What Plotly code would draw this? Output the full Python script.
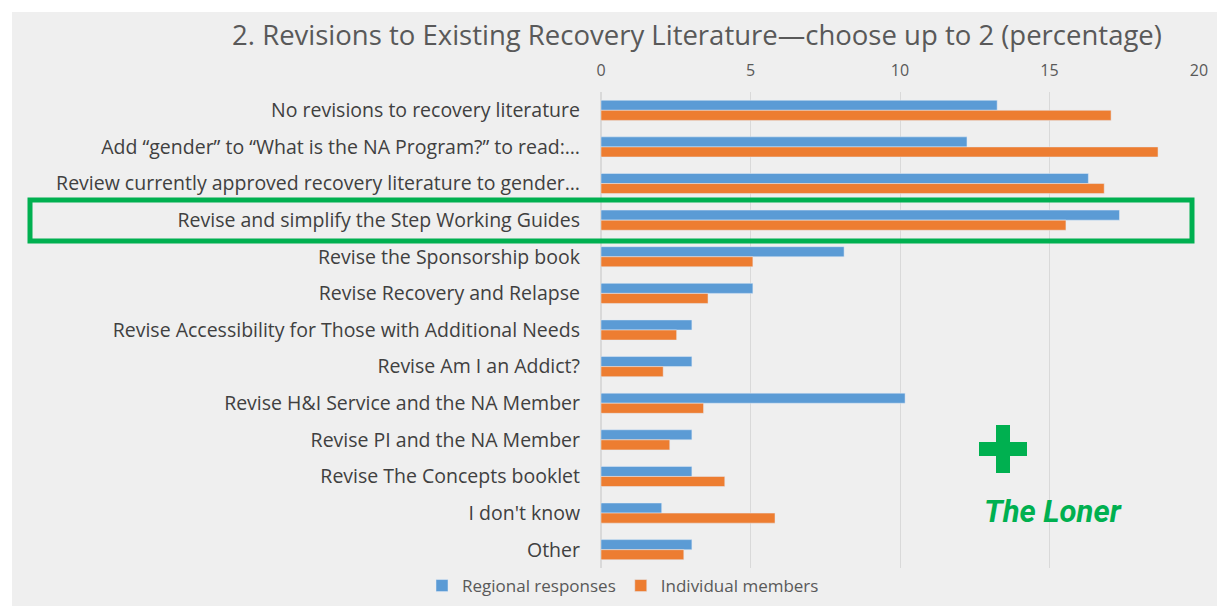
import plotly.graph_objects as go

categories = [
    "No revisions to recovery literature",
    "Add \u201cgender\u201d to \u201cWhat is the NA Program?\u201d to read:\u2026",
    "Review currently approved recovery literature to gender\u2026",
    "Revise and simplify the Step Working Guides",
    "Revise the Sponsorship book",
    "Revise Recovery and Relapse",
    "Revise Accessibility for Those with Additional Needs",
    "Revise Am I an Addict?",
    "Revise H&I Service and the NA Member",
    "Revise PI and the NA Member",
    "Revise The Concepts booklet",
    "I don't know",
    "Other",
]
regional = [13.25, 12.24, 16.30, 17.34, 8.13, 5.08, 3.04, 3.04, 10.17, 3.04, 3.04, 2.03, 3.04]
individual = [17.06, 18.63, 16.83, 15.55, 5.08, 3.58, 2.53, 2.08, 3.43, 2.30, 4.14, 5.82, 2.77]
tick_vals = [0, 5, 10, 15, 20]

# page has an 8px body margin; work in page pixel coordinates and shift
OFF = 8
W, H = 1225 - 2 * OFF, 614 - 2 * OFF
L, R, T, B = 601 - OFF, 1199 - OFF, 92 - OFF, 568 - OFF


def px(x):
    return (x - OFF - L) / (R - L)


def py(y):
    return (B - (y - OFF)) / (B - T)


fig = go.Figure()
fig.add_trace(go.Bar(y=categories, x=regional, orientation="h", name="Regional responses",
                     marker=dict(color="#5b9bd5")))
fig.add_trace(go.Bar(y=categories, x=individual, orientation="h", name="Individual members",
                     marker=dict(color="#ed7d31")))

font = "Open Sans"
shapes = [
    dict(type="rect", xref="paper", yref="paper", x0=px(12), x1=px(1221), y0=py(610), y1=py(12),
         fillcolor="#efefef", line=dict(width=0), layer="below"),
    dict(type="rect", xref="paper", yref="paper", x0=px(30), x1=px(1192), y0=py(241), y1=py(200),
         fillcolor="rgba(0,0,0,0)", line=dict(color="#00b050", width=5), layer="above"),
    dict(type="rect", xref="paper", yref="paper", x0=px(996), x1=px(1010), y0=py(473), y1=py(425),
         fillcolor="#00b050", line=dict(width=0)),
    dict(type="rect", xref="paper", yref="paper", x0=px(979), x1=px(1027), y0=py(456), y1=py(442),
         fillcolor="#00b050", line=dict(width=0)),
]

fig.update_layout(
    width=W, height=H,
    margin=dict(l=L, r=W - R, t=T, b=H - B, autoexpand=False),
    paper_bgcolor="white",
    plot_bgcolor="#efefef",
    barmode="group",
    bargap=0.45,
    bargroupgap=0,
    font=dict(family=font, color="#595959"),
    title=dict(text="2. Revisions to Existing Recovery Literature\u2014choose up to 2 (percentage)",
               xref="container", yref="container", x=(697 - OFF) / W, y=1 - (35 - OFF) / H,
               xanchor="center", yanchor="middle",
               font=dict(size=27.5, color="#595959", family=font)),
    xaxis=dict(side="top", range=[0, 20], tickvals=tick_vals, showgrid=True,
               gridcolor="#d9d9d9", gridwidth=1, zeroline=True, zerolinecolor="#d9d9d9",
               showline=False, ticks="", tickfont=dict(size=16, color="#595959"),
               ticklabelstandoff=12, fixedrange=True, automargin=False),
    yaxis=dict(autorange="reversed", showgrid=False, zeroline=False, ticks="",
               tickfont=dict(size=19.5, color="#404040"), ticklabelstandoff=20,
               automargin=False),
    legend=dict(orientation="h", x=px(623), xanchor="center", y=py(586), yanchor="middle",
                font=dict(size=17, color="#595959"), bgcolor="rgba(0,0,0,0)",
                itemwidth=30, tracegroupgap=0),
    showlegend=True,
    shapes=shapes,
    annotations=[
        dict(text="<b><i>The Loner</i></b>", xref="paper", yref="paper", x=px(1053), y=py(511),
             xanchor="center", yanchor="middle", showarrow=False,
             font=dict(family="Roboto", size=31, color="#00b050")),
    ],
)

fig.write_html("out.html")
